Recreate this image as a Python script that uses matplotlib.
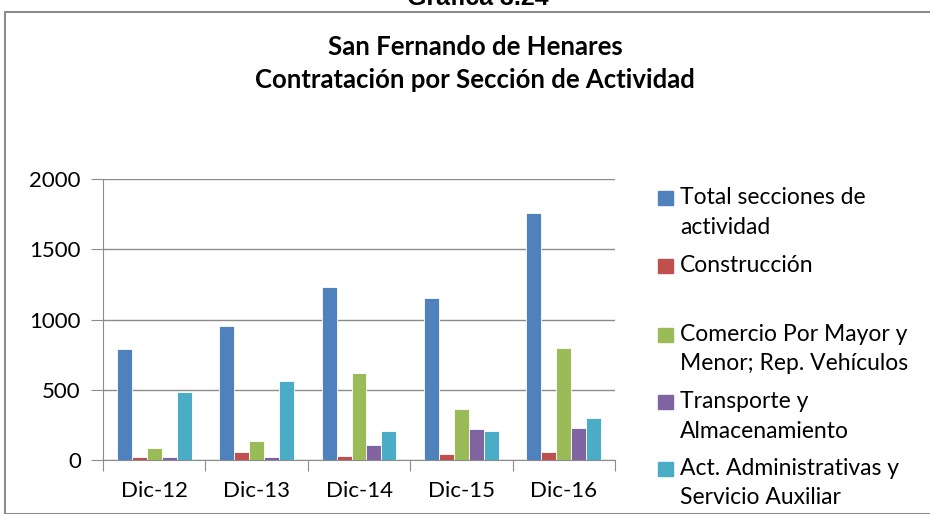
import matplotlib.pyplot as plt
import numpy as np
from matplotlib.patches import Rectangle

plt.rcParams['font.family'] = ['Lato', 'DejaVu Sans']

periodos = ["Dic-12", "Dic-13", "Dic-14", "Dic-15", "Dic-16"]
series = ["Total secciones de\nactividad", "Construcción",
          "Comercio Por Mayor y\nMenor; Rep. Vehículos",
          "Transporte y\nAlmacenamiento",
          "Act. Administrativas y\nServicio Auxiliar"]
total = [788, 954, 1230, 1153, 1756]
construccion = [19, 55, 31, 45, 55]
comercio = [88, 135, 619, 363, 795]
transporte = [20, 20, 105, 221, 230]
administrativas = [486, 562, 204, 204, 297]
colores = ["#4f81bd", "#c0504d", "#9bbb59", "#8064a2", "#4bacc6"]

valores = [total, construccion, comercio, transporte, administrativas]

W, H = 930, 514
fig = plt.figure(figsize=(W / 100, H / 100), dpi=100)

# marco del grafico
fig.add_artist(Rectangle((5 / W, 0), 1, 1 - 12 / H, transform=fig.transFigure,
                         fill=False, edgecolor="#8c8c8c", linewidth=1.5, clip_on=False))

fig.text(478 / W, 1 + 2 / H, "Gráfica 3.24", ha="center", va="center",
         fontsize=18, fontweight="bold", family="Liberation Sans")
fig.text(475 / W, 1 - 47 / H, "San Fernando de Henares", ha="center", va="center",
         fontsize=18.5, fontweight="bold")
fig.text(475 / W, 1 - 80 / H, "Contratación por Sección de Actividad", ha="center",
         va="center", fontsize=18.5, fontweight="bold")

ax = fig.add_axes([103 / W, 1 - 460 / H, (615 - 103) / W, (460 - 179) / H])

x = np.arange(len(periodos))
ancho = 0.146
for i, (vals, col) in enumerate(zip(valores, colores)):
    ax.bar(x + (i - 2) * ancho, vals, ancho, color=col, edgecolor="white",
           linewidth=0.6, zorder=3)

ax.set_xlim(-0.5, len(periodos) - 0.5)
ax.set_ylim(0, 2000)
ax.set_yticks([0, 500, 1000, 1500, 2000])
ax.yaxis.grid(True, color="#8c8c8c", linewidth=1, zorder=0)
ax.set_xticks(np.arange(-0.5, len(periodos), 1))
ax.set_xticklabels([])
ax.set_xticks(x, minor=True)
ax.set_xticklabels(periodos, minor=True)
ax.tick_params(axis="x", which="major", length=8, color="#8c8c8c", direction="out")
ax.tick_params(axis="x", which="minor", length=0, labelsize=16, pad=15)
ax.tick_params(axis="y", length=9, color="#8c8c8c", labelsize=16, pad=7)
for s in ["top", "right"]:
    ax.spines[s].set_visible(False)
for s in ["left", "bottom"]:
    ax.spines[s].set_color("#8c8c8c")

# leyenda
pos_leyenda = [198, 266, 335, 402, 469]
for lab, col, yp in zip(series, colores, pos_leyenda):
    fig.add_artist(Rectangle((658 / W, 1 - (yp + 7) / H), 15 / W, 14 / H,
                             transform=fig.transFigure, color=col))
    fig.text(680 / W, 1 - (yp - 11) / H, lab, ha="left", va="top", fontsize=16.5,
             linespacing=1.5)

fig.savefig("out.png", dpi=100)
